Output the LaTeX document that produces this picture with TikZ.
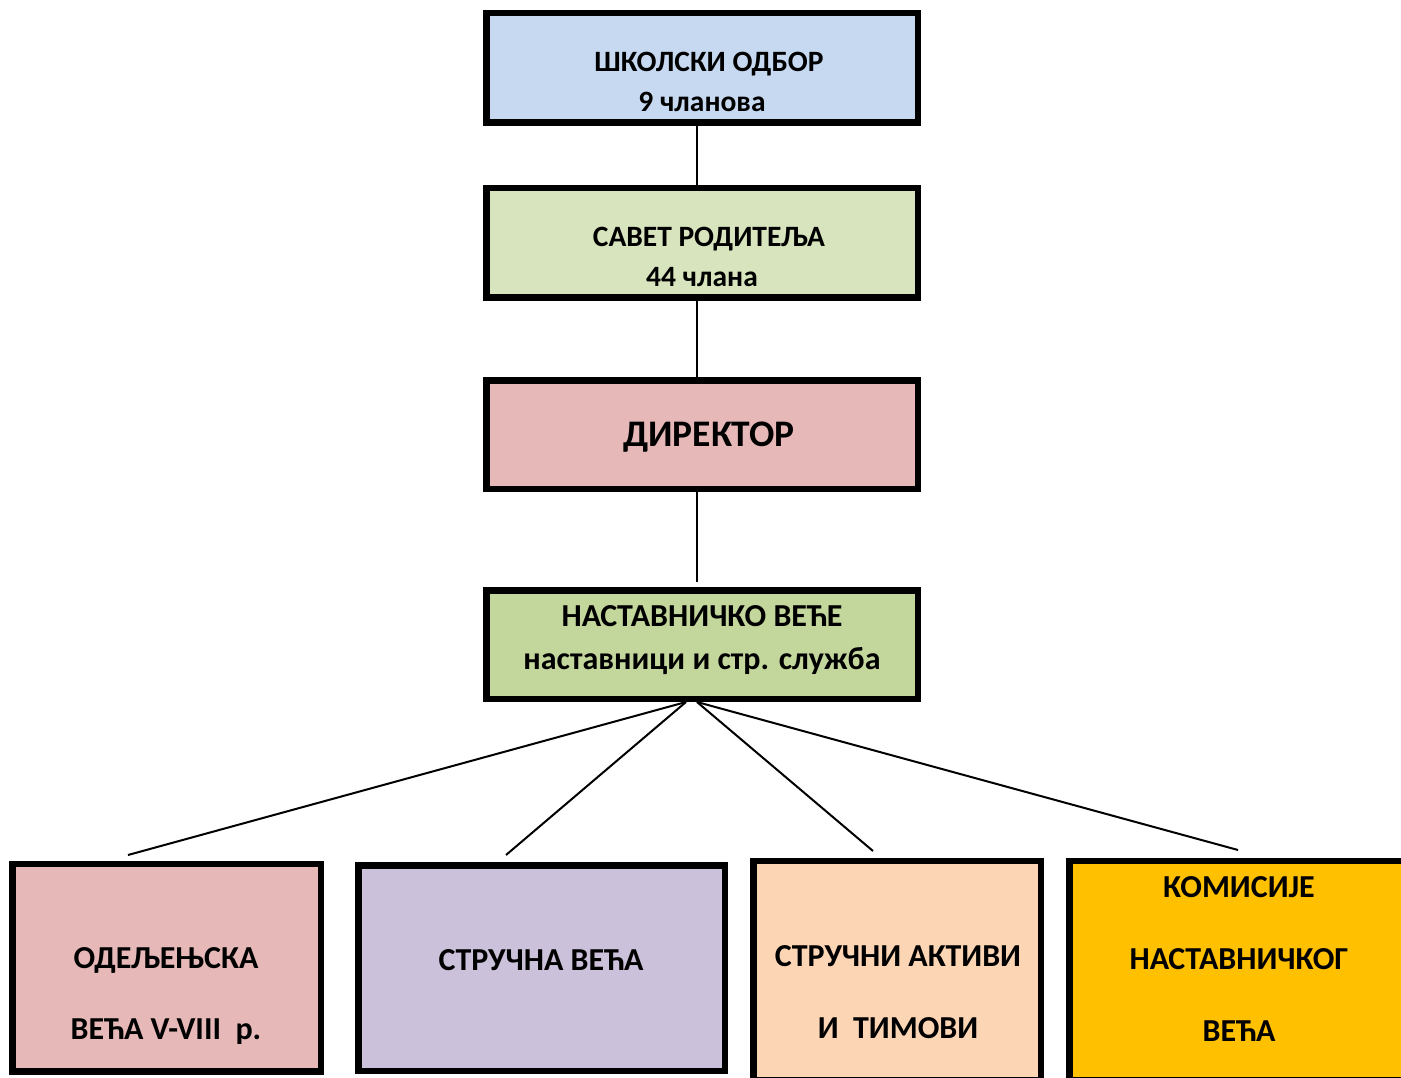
\documentclass[tikz,border=0pt]{standalone}
\usepackage{fontspec}
\setmainfont{Carlito}
\definecolor{cblue}{HTML}{C6D9F1}
\definecolor{cgreenl}{HTML}{D7E4BD}
\definecolor{cpink}{HTML}{E6B9B8}
\definecolor{cgreen}{HTML}{C3D69B}
\definecolor{cviolet}{HTML}{CCC1DA}
\definecolor{cpeach}{HTML}{FCD5B5}
\definecolor{cgold}{HTML}{FFC000}
\tikzset{
  box/.style={draw=black, line width=6.5pt, rectangle, inner sep=0pt, outer sep=0pt},
  txts/.style={font=\bfseries\fontsize{29.5}{34}\selectfont, inner sep=0pt, anchor=center},
  txt/.style={font=\bfseries\fontsize{32}{36}\selectfont, inner sep=0pt, anchor=center},
  big/.style={font=\bfseries\fontsize{37.5}{42}\selectfont, inner sep=0pt, anchor=center},
  conn/.style={line width=2pt, black}
}
\begin{document}
\begin{tikzpicture}[x=1pt,y=-1pt]
\useasboundingbox (0,0) rectangle (1401,1078);
\fill[white] (0,0) rectangle (1401,1078);
% top column boxes
\node[box, fill=cblue, minimum width=431.5pt, minimum height=109.5pt] (b1) at (702,68) {};
\node[box, fill=cgreenl, minimum width=431.5pt, minimum height=109.5pt] (b2) at (702,243) {};
\node[box, fill=cpink, minimum width=431.5pt, minimum height=108.5pt] (b3) at (702,434.5) {};
\node[box, fill=cgreen, minimum width=431.5pt, minimum height=108.5pt] (b4) at (702,644.5) {};
% bottom boxes
\node[box, fill=cpink, minimum width=308.5pt, minimum height=207.5pt] (c1) at (166.5,967.5) {};
\node[box, fill=cviolet, minimum width=366.5pt, minimum height=205.5pt] (c2) at (541.5,968) {};
\node[box, fill=cpeach, minimum width=287.5pt, minimum height=219.5pt] (c3) at (897,970.5) {};
\node[box, fill=cgold, minimum width=345.5pt, minimum height=219.5pt] (c4) at (1242,970.5) {};
% texts
\node[txts] (t1a) at (709,64) {ШКОЛСКИ ОДБОР};
\node[txts] (t1b) at (702,102) {9 чланова};
\node[txts] (t2a) at (709,239) {САВЕТ РОДИТЕЉА};
\node[txts] (t2b) at (702,277) {44 члана};
\node[big] (t3) at (709,437) {ДИРЕКТОР};
\node[txt] (t4a) at (702,616) {НАСТАВНИЧКО ВЕЋЕ};
\node[txt] (t4b) at (702,661) {наставници и стр. служба};
\node[txt] (tc1a) at (166,960) {ОДЕЉЕЊСКА};
\node[txt] (tc1b) at (166,1032) {ВЕЋА V-VIII\ \ р.};
\node[txt] (tc2) at (541,960) {СТРУЧНА ВЕЋА};
\node[txt] (tc3a) at (898,956) {СТРУЧНИ АКТИВИ};
\node[txt] (tc3b) at (898,1028) {И\ \ ТИМОВИ};
\node[txt] (tc4a) at (1239,887) {КОМИСИЈЕ};
\node[txt] (tc4b) at (1239,959) {НАСТАВНИЧКОГ};
\node[txt] (tc4c) at (1239,1031) {ВЕЋА};
% connectors
\coordinate (e3) at (697,582);
\coordinate (s4a) at (686,702);
\coordinate (s4b) at (697,702);
\coordinate (e1) at (128,855);
\coordinate (e2) at (506,855);
\coordinate (e3b) at (873,851);
\coordinate (e4) at (1238,850);
\draw[conn] (b1.south -| 697,0) -- (b2.north -| 697,0);
\draw[conn] (b2.south -| 697,0) -- (b3.north -| 697,0);
\draw[conn] (b3.south -| 697,0) -- (e3);
\draw[conn] (s4a) -- (e1);
\draw[conn] (s4a) -- (e2);
\draw[conn] (s4b) -- (e3b);
\draw[conn] (s4b) -- (e4);
\end{tikzpicture}
\end{document}
